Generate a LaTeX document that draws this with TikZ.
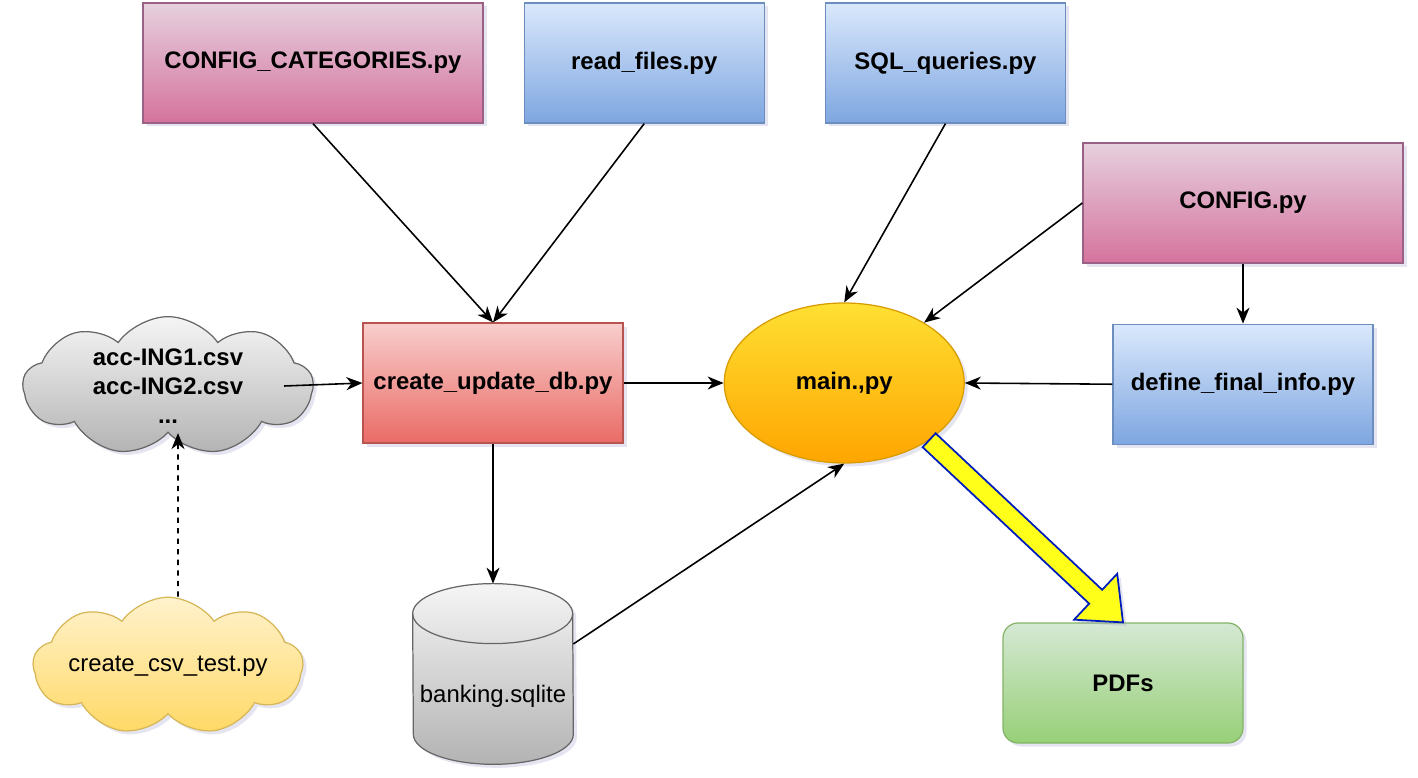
\documentclass[tikz,border=0pt]{standalone}
\usepackage{fontspec}
\setmainfont{Liberation Sans}
\usepackage{xcolor}
\usepackage{tikz}
\usetikzlibrary{shapes,shapes.geometric,shapes.symbols,arrows.meta,positioning,shadows,calc}

\definecolor{pinkTop}{HTML}{E6D0DE}
\definecolor{pinkBot}{HTML}{D5739D}
\definecolor{pinkLine}{HTML}{996185}
\definecolor{blueTop}{HTML}{DAE8FC}
\definecolor{blueBot}{HTML}{7EA6E0}
\definecolor{blueLine}{HTML}{6C8EBF}
\definecolor{redTop}{HTML}{F8CECC}
\definecolor{redBot}{HTML}{EA6B66}
\definecolor{redLine}{HTML}{B85450}
\definecolor{sunTop}{HTML}{FFE033}
\definecolor{sunBot}{HTML}{FFA500}
\definecolor{sunLine}{HTML}{D79B00}
\definecolor{greyTop}{HTML}{F5F5F5}
\definecolor{greyBot}{HTML}{B3B3B3}
\definecolor{greyLine}{HTML}{666666}
\definecolor{creamTop}{HTML}{FFF2CC}
\definecolor{creamBot}{HTML}{FFD966}
\definecolor{creamLine}{HTML}{D6B656}
\definecolor{greenTop}{HTML}{D5E8D4}
\definecolor{greenBot}{HTML}{97D077}
\definecolor{greenLine}{HTML}{82B366}
\definecolor{bigYellow}{HTML}{FFFF1A}
\definecolor{bigBlue}{HTML}{001DBC}

\begin{document}
\begin{tikzpicture}[
    node distance=2cm,
    font=\fontsize{13.6}{16.5}\selectfont\bfseries,
    softshadow/.style={drop shadow={shadow xshift=0.07cm, shadow yshift=-0.07cm, opacity=0.25, fill=black!50!blue!40}},
    box/.style={rectangle, draw, line width=0.7pt, text centered, minimum width=4.8cm, minimum height=2.4cm, softshadow},
    pinkbox/.style={box, top color=pinkTop, bottom color=pinkBot, draw=pinkLine},
    bluebox/.style={box, top color=blueTop, bottom color=blueBot, draw=blueLine},
    redbox/.style={box, top color=redTop, bottom color=redBot, draw=redLine},
    greenbox/.style={box, rounded corners=0.3cm, top color=greenTop, bottom color=greenBot, draw=greenLine},
    mainblob/.style={ellipse, draw=sunLine, line width=0.7pt, top color=sunTop, bottom color=sunBot, minimum width=4.8cm, minimum height=3.2cm, softshadow},
    cloudbox/.style={cloud, cloud puffs=9, cloud puff arc=110, aspect=2.1, inner sep=0pt, draw, line width=0.7pt, align=center, softshadow},
    dbcyl/.style={rectangle, inner sep=0pt, minimum width=3.2cm, minimum height=3.6cm},
    dbskin/.style={draw=greyLine, line width=0.7pt, top color=greyTop, bottom color=greyBot, softshadow},
    arrow/.style={-{Stealth[length=3.2mm, width=2.6mm, inset=1mm]}, line width=0.9pt},
    dasharrow/.style={arrow, dashed},
    bigarrow/.style={draw=bigBlue, fill=bigYellow, line width=1pt, line join=miter, softshadow}
]

\useasboundingbox (0,0) rectangle (28.36,-15.56);

\node[pinkbox, minimum width=6.8cm] (catcfg) at (6.26,-1.26) {CONFIG\_CATEGORIES.py};
\node[bluebox, right=0.8cm of catcfg] (readfiles) {read\_files.py};
\node[bluebox, right=1.2cm of readfiles] (sqlq) {SQL\_queries.py};
\node[pinkbox, minimum width=6.4cm] (config) at (24.86,-4.06) {CONFIG.py};

\node[redbox, minimum width=5.2cm] (create) at (9.86,-7.66) {create\_update\_db.py};
\node[mainblob, right=2cm of create] (main) {main.,py};
\node[bluebox, minimum width=5.2cm, below=1.2cm of config] (define) {define\_final\_info.py};

\node[cloudbox, top color=greyTop, bottom color=greyBot, draw=greyLine, minimum width=5.8cm, minimum height=2.7cm] (csvs) at (3.36,-7.72) {acc-ING1.csv\\acc-ING2.csv\\...};
\node[cloudbox, top color=creamTop, bottom color=creamBot, draw=creamLine, minimum width=5.4cm, minimum height=2.75cm, font=\fontsize{13.6}{16.5}\selectfont] (csvtest) at (3.36,-13.32) {\makebox[2.6cm]{create\_csv\_test.py}};

% database drum
\node[dbcyl, below=2.8cm of create] (db) {};
\path[dbskin] ([yshift=-0.6cm]db.north west) arc[start angle=180, end angle=0, x radius=1.6cm, y radius=0.6cm]
    -- ([yshift=0.6cm]db.south east) arc[start angle=0, end angle=-180, x radius=1.6cm, y radius=0.6cm] -- cycle;
\draw[greyLine, line width=0.7pt] ([yshift=-0.6cm]db.north west) arc[start angle=180, end angle=360, x radius=1.6cm, y radius=0.6cm];
\node[font=\fontsize{13.6}{16.5}\selectfont, yshift=-0.45cm] (dbtext) at (db) {banking.sqlite};

\node[greenbox] (pdfs) at (22.46,-13.66) {PDFs};

% connectors
\draw[arrow] (catcfg.south) -- (create.north);
\draw[arrow] (readfiles.south) -- (create.north);
\draw[arrow] (sqlq.south) -- (main.north);
\draw[arrow] (config.west) -- (main);
\draw[arrow] (config.south) -- (define.north);
\draw[arrow] (define.west) -- (main.east);
\draw[arrow] ([xshift=-0.6cm]csvs.east) -- (create.west);
\draw[arrow] (create.east) -- (main.west);
\draw[arrow] (create.south) -- (db.north);
\draw[arrow] ([yshift=0.6cm]db.east) -- (main.south);
\draw[dasharrow] ([xshift=0.2cm]csvtest.north) -- ([xshift=0.2cm]csvs.south);

% big output arrow
\coordinate (outS) at (main.-34);
\coordinate (outT) at (pdfs.north);
\coordinate (outJ) at ($(outT)!0.75cm!(outS)$);
\draw[bigarrow] ($(outS)!0.19cm!90:(outT)$) -- ($(outJ)!0.19cm!-90:(outS)$)
    -- ($(outJ)!0.63cm!-90:(outS)$) -- (outT) -- ($(outJ)!0.63cm!90:(outS)$)
    -- ($(outJ)!0.19cm!90:(outS)$) -- ($(outS)!0.19cm!-90:(outT)$) -- cycle;

\end{tikzpicture}
\end{document}
